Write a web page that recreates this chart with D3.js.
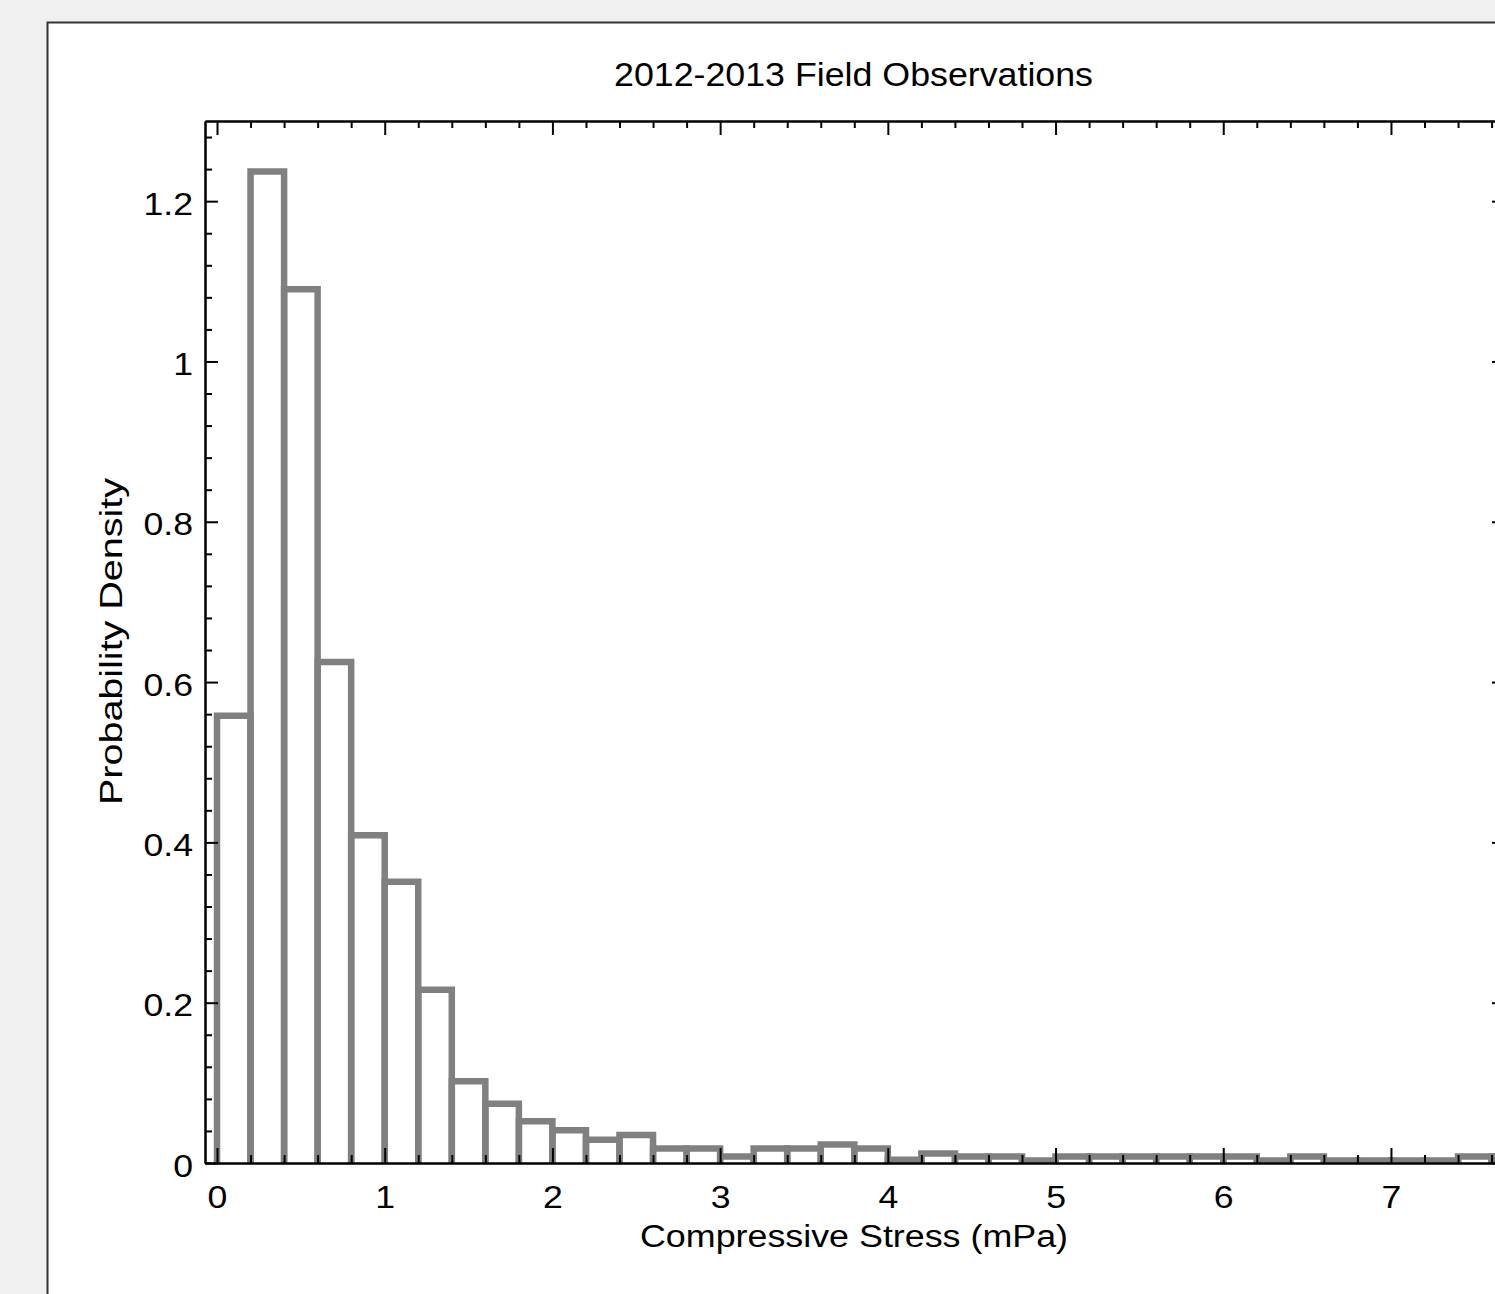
<!DOCTYPE html>
<html>
<head>
<meta charset="utf-8">
<script src="https://cdn.jsdelivr.net/npm/d3@7"></script>
<style>
  html, body { margin: 0; padding: 0; background: #f0f0f0; overflow: hidden; }
  svg { display: block; }
  text { font-family: "Liberation Sans", Arial, sans-serif; fill: #000; }
</style>
</head>
<body>
<svg id="chart"></svg>
<script>
// histogram data: bins of width 0.2 starting at 0
const binStart = 0;
const binWidth = 0.2;
const densities = [0.558, 1.237, 1.090, 0.625, 0.409, 0.351, 0.216, 0.102, 0.074, 0.052,
                   0.041, 0.029, 0.035, 0.018, 0.018, 0.008, 0.018, 0.018, 0.023, 0.018,
                   0.004, 0.012, 0.008, 0.008, 0.003, 0.008, 0.008, 0.008, 0.008, 0.008,
                   0.008, 0.003, 0.008, 0.003, 0.003, 0.003, 0.003, 0.008, 0.008];
const xMajorTicks = [0, 1, 2, 3, 4, 5, 6, 7];
const yMajorTicks = [0, 0.2, 0.4, 0.6, 0.8, 1.0, 1.2];
const yTickLabels = ["0", "0.2", "0.4", "0.6", "0.8", "1", "1.2"];
const titleText = "2012-2013 Field Observations";
const xLabel = "Compressive Stress (mPa)";
const yLabel = "Probability Density";

const W = 1495, H = 1294;
const svg = d3.select("#chart").attr("width", W).attr("height", H);

// white panel
svg.append("rect")
  .attr("x", 47.5).attr("y", 22.5)
  .attr("width", 1700).attr("height", 1400)
  .attr("fill", "#fff").attr("stroke", "#333").attr("stroke-width", 2);

const plotLeft = 205, plotRight = 1505, plotTop = 121, plotBottom = 1163;

const x = d3.scaleLinear().domain([-0.0716, 7.68]).range([plotLeft, plotRight]);
const y = d3.scaleLinear().domain([0, 1.3]).range([plotBottom, plotTop]);

svg.append("clipPath").attr("id", "plotclip")
  .append("rect").attr("x", plotLeft).attr("y", plotTop)
  .attr("width", plotRight - plotLeft).attr("height", plotBottom - plotTop);

// bars as open outlines
const bins = densities.map((v, i) => ({ x0: binStart + i * binWidth, x1: binStart + (i + 1) * binWidth, v: v }));

svg.append("g").attr("clip-path", "url(#plotclip)")
  .selectAll("path")
  .data(bins)
  .enter()
  .append("path")
  .attr("d", d => `M${x(d.x0)},${y(0) + 4}V${y(d.v)}H${x(d.x1)}V${y(0) + 4}`)
  .attr("fill", "none")
  .attr("stroke", "#808080")
  .attr("stroke-width", 6.5)
  .attr("stroke-linejoin", "miter");

// minor tick values
const xMinor = d3.range(0, 7.7, 0.2).filter(v => Math.abs(v - Math.round(v)) > 1e-6);
const yMinor = d3.range(0, 1.31, 0.04).filter(v => !yMajorTicks.some(t => Math.abs(t - v) < 1e-6));

// the original font is a bit wider than Liberation Sans
const stretch = 1.15;

function styleAxis(g) {
  g.selectAll("path.domain").attr("stroke", "#000").attr("stroke-width", 2);
  g.selectAll(".tick line").attr("stroke", "#000").attr("stroke-width", 2);
  g.selectAll("text").style("font-size", "31px").attr("fill", "#000")
    .each(function () {
      const t = d3.select(this);
      const tx = +t.attr("x") || 0;
      t.attr("x", 0).attr("transform", `translate(${tx},0) scale(${stretch},1)`);
    });
}

// bottom axis
svg.append("g").attr("transform", `translate(0,${plotBottom})`)
  .call(d3.axisBottom(x).tickValues(xMajorTicks).tickSizeInner(-15).tickSizeOuter(0).tickPadding(23).tickFormat(d3.format("d")))
  .call(styleAxis);
svg.append("g").attr("transform", `translate(0,${plotBottom})`)
  .call(d3.axisBottom(x).tickValues(xMinor).tickSizeInner(-8).tickSizeOuter(0).tickFormat(""))
  .call(styleAxis);

// top axis
svg.append("g").attr("transform", `translate(0,${plotTop})`)
  .call(d3.axisTop(x).tickValues(xMajorTicks).tickSizeInner(-14).tickSizeOuter(0).tickFormat(""))
  .call(styleAxis);
svg.append("g").attr("transform", `translate(0,${plotTop})`)
  .call(d3.axisTop(x).tickValues(xMinor).tickSizeInner(-7).tickSizeOuter(0).tickFormat(""))
  .call(styleAxis);

// left axis
svg.append("g").attr("transform", `translate(${plotLeft},0)`)
  .call(d3.axisLeft(y).tickValues(yMajorTicks).tickSizeInner(-13).tickSizeOuter(0).tickPadding(12)
    .tickFormat((d, i) => yTickLabels[i]))
  .call(styleAxis)
  .call(g => g.selectAll("text").attr("dy", "0.42em"));
svg.append("g").attr("transform", `translate(${plotLeft},0)`)
  .call(d3.axisLeft(y).tickValues(yMinor).tickSizeInner(-7).tickSizeOuter(0).tickFormat(""))
  .call(styleAxis);

// right axis
svg.append("g").attr("transform", `translate(${plotRight},0)`)
  .call(d3.axisRight(y).tickValues(yMajorTicks).tickSizeInner(-13).tickSizeOuter(0).tickFormat(""))
  .call(styleAxis);
svg.append("g").attr("transform", `translate(${plotRight},0)`)
  .call(d3.axisRight(y).tickValues(yMinor).tickSizeInner(-7).tickSizeOuter(0).tickFormat(""))
  .call(styleAxis);

// title and axis labels
svg.append("text")
  .attr("x", 614).attr("y", 86)
  .attr("textLength", 479).attr("lengthAdjust", "spacingAndGlyphs")
  .style("font-size", "32.5px")
  .text(titleText);

svg.append("text")
  .attr("x", 640).attr("y", 1247)
  .attr("textLength", 428).attr("lengthAdjust", "spacingAndGlyphs")
  .style("font-size", "31px")
  .text(xLabel);

svg.append("text")
  .attr("transform", "translate(122,805) rotate(-90)")
  .attr("textLength", 327).attr("lengthAdjust", "spacingAndGlyphs")
  .style("font-size", "31.5px")
  .text(yLabel);
</script>
</body>
</html>
